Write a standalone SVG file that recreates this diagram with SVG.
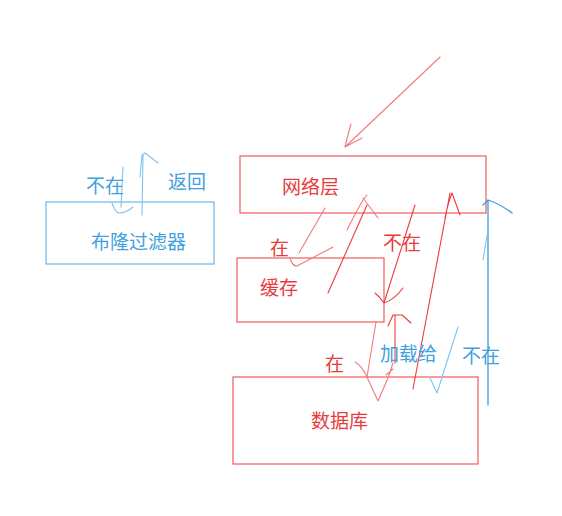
<svg xmlns="http://www.w3.org/2000/svg" width="562" height="516" viewBox="0 0 562 516">
<style>
.box-r{fill:none;stroke:#f05a5a;stroke-width:1.2}
.box-b{fill:none;stroke:#6cb8ea;stroke-width:1.2}
.t{font-family:"Noto Sans CJK SC","Microsoft YaHei",sans-serif;font-size:19px}
.tr{fill:#e83c3c}
.tb{fill:#3f9fe0}
.sr{fill:none;stroke:#ee3a3a;stroke-width:1.1;stroke-linecap:round;stroke-linejoin:round}
.sr2{fill:none;stroke:#f27a7a;stroke-width:1.1;stroke-linecap:round;stroke-linejoin:round}
.sb{fill:none;stroke:#3d9de0;stroke-width:1.3;stroke-linecap:round;stroke-linejoin:round}
.sb2{fill:none;stroke:#7fc2ee;stroke-width:1.1;stroke-linecap:round;stroke-linejoin:round}
</style>
<rect width="562" height="516" fill="#ffffff"/>
<g id="network">
<rect class="box-r" x="240" y="156" width="246" height="57"/>
<text class="t tr" x="282" y="194">网络层</text>
</g>
<g id="cache">
<rect class="box-r" x="237" y="258" width="147" height="64"/>
<text class="t tr" x="260" y="295">缓存</text>
</g>
<g id="database">
<rect class="box-r" x="233" y="377" width="245" height="87"/>
<text class="t tr" x="311" y="428">数据库</text>
</g>
<g id="bloom">
<rect class="box-b" x="46" y="202" width="168" height="62"/>
<text class="t tb" x="91" y="249">布隆过滤器</text>
</g>
<g id="connectors">
<path class="sr2" d="M440,57 L345,147 M351,124 Q347,138 345,147 L362,138"/>
<path class="sr2" d="M325,208 L299,253"/>
<path class="sr2" d="M290,258 Q292,266 297,266 Q312,258 333,247"/>
<path class="sr" d="M328,293 L367,205"/>
<path class="sr2" d="M347,230 Q356,212 363,200 L367,195 M363,198 L378,218"/>
<path class="sr" d="M415,205 L384,303 M375,293 Q380,297 384,303 Q394,300 403,288"/>
<path class="sr2" d="M376,322 L367,377"/>
<path class="sr2" d="M355,362 Q362,366 367,377 L378,401 L388,378 L393,363 M386,375 L393,369"/>
<path class="sr" d="M395,363 L395,315 M388,326 L393,315 L402,315 L411,323"/>
<path class="sr" d="M413,389 L450,193 M445,218 Q448,203 452,193 Q456,204 460,215"/>
<path class="sb" d="M488,405 L488,200 M483,205 L488,200 Q500,204 512,213"/>
<path class="sb2" d="M483,260 L488,230"/>
<path class="sb2" d="M458,327 L437,393 L430,378"/>
<path class="sb2" d="M123,167 L121,207 M112,203 Q115,212 119,213 Q126,213 133,207"/>
<path class="sb2" d="M142,215 L143,155 M140,177 L142,155 L145,153 L158,163"/>
</g>
<g id="labels">
<text class="t tb" x="86" y="193">不在</text>
<text class="t tb" x="168" y="189">返回</text>
<text class="t tr" x="270" y="255">在</text>
<text class="t tr" x="383" y="250">不在</text>
<text class="t tr" x="325" y="371">在</text>
<text class="t tb" x="380" y="361">加载给</text>
<text class="t tb" x="462" y="363">不在</text>
</g>
</svg>
